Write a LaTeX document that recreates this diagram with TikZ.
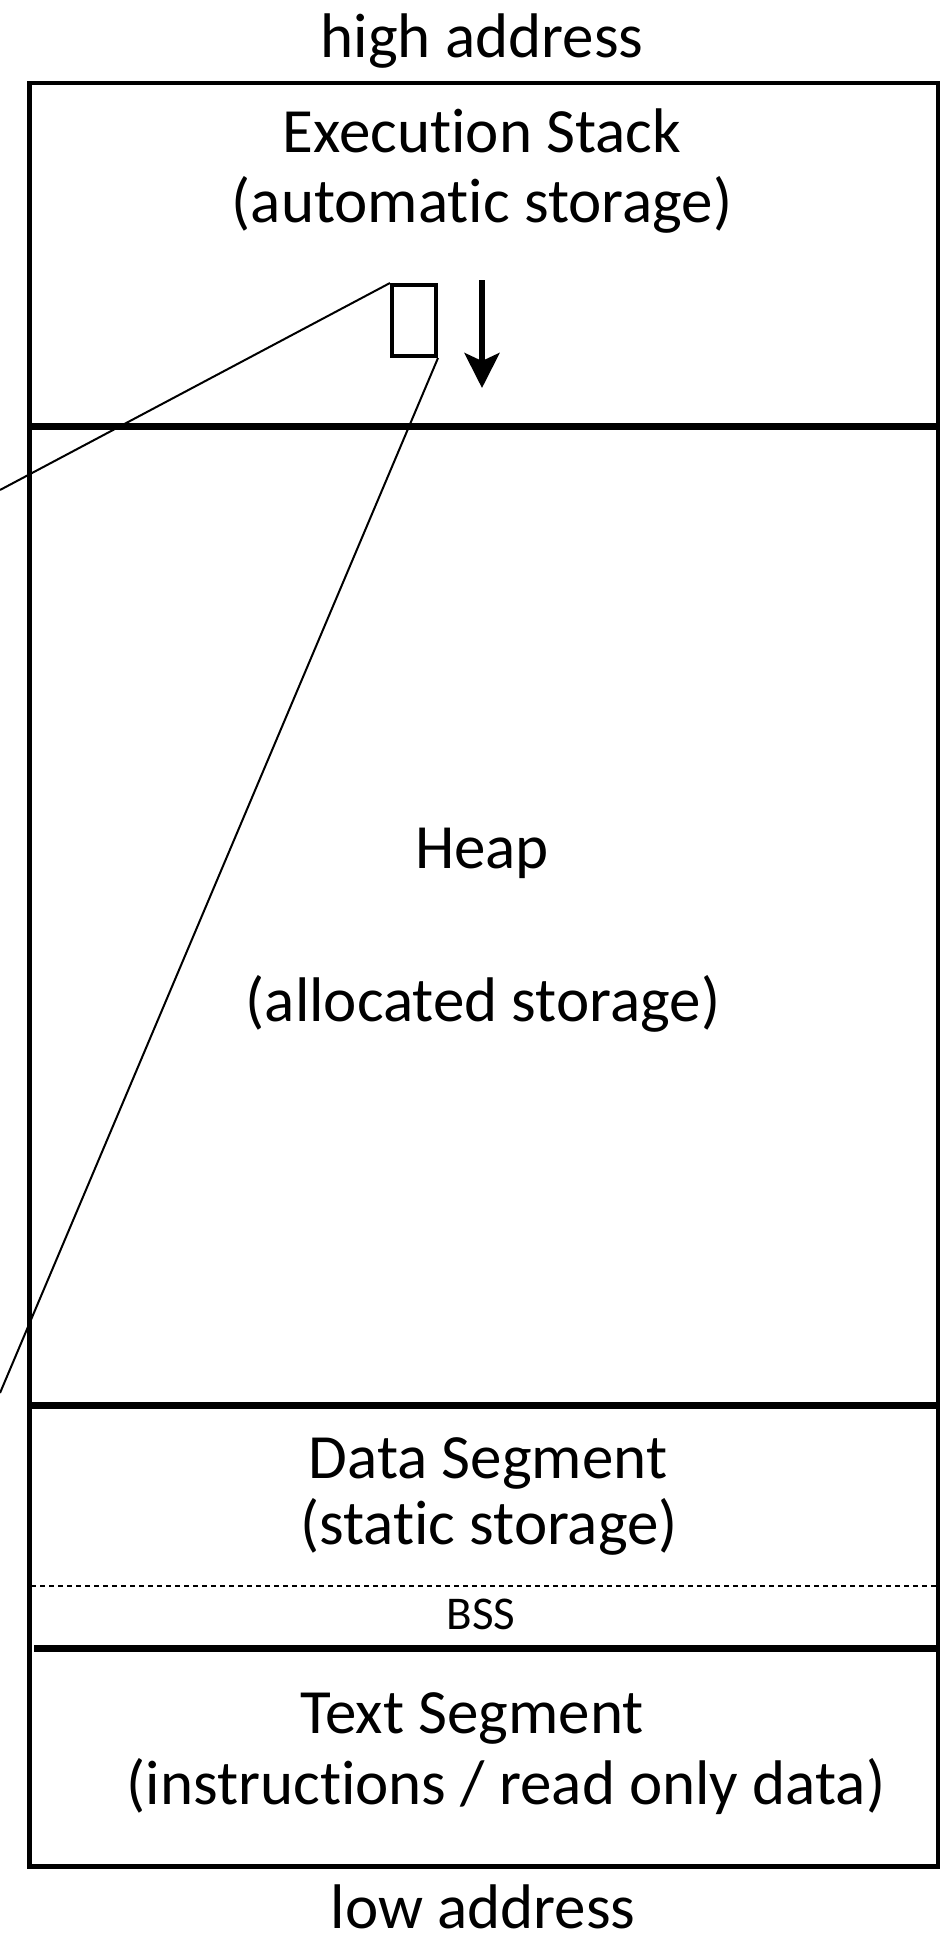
\documentclass[tikz,border=0pt]{standalone}
\usepackage{fontspec}
\setmainfont{Carlito}[Ligatures=NoCommon]
\usetikzlibrary{arrows.meta}
\begin{document}
\begin{tikzpicture}[x=1pt,y=-1pt,
  lbl/.style={anchor=base, inner sep=0pt, font=\fontsize{63}{70}\selectfont},
  smalllbl/.style={anchor=base, inner sep=0pt, font=\fontsize{47}{52}\selectfont},
  frame/.style={line width=4.5pt},
  divider/.style={line width=7.5pt},
  thinline/.style={line width=2pt},
  cellbox/.style={draw, line width=4pt, inner sep=0pt, minimum width=44pt, minimum height=71pt},
  growarrow/.style={line width=5.5pt, -{Stealth[length=35pt,width=35pt,inset=8pt]}}]
\useasboundingbox (0,0) rectangle (952,1938);
% outer frame and dividers
\draw[frame] (29.5,83) rectangle (938,1866.5);
\draw[divider] (29.5,426.5) -- (938,426.5);
\draw[divider] (29.5,1405.5) -- (938,1405.5);
\draw[divider] (34,1648.3) -- (938,1648.3);
\draw[line width=2.5pt, dash pattern=on 5pt off 4pt] (31,1586) -- (936,1586);
% stack cell and growth arrow
\node[cellbox] (cell) at (414,320.5) {};
\coordinate (arrtop) at (482,280);
\coordinate (arrtip) at (482,388);
\draw[growarrow] (arrtop) -- (arrtip);
% zoom-out connectors
\coordinate (leftA) at (0,490);
\coordinate (leftB) at (0,1393);
\draw[thinline] (cell.north west) -- (leftA);
\draw[thinline] (cell.south east) -- (leftB);
% labels
\node[lbl] (high) at (482,57) {high address};
\node[lbl] (stack) at (482,152) {Execution Stack};
\node[lbl] (stack2) at (482,222) {(automatic storage)};
\node[lbl] (heap) at (482,868) {Heap};
\node[lbl] (heap2) at (483,1021) {(allocated storage)};
\node[lbl] (data) at (488,1478) {Data Segment};
\node[lbl] (data2) at (489,1544) {(static storage)};
\node[smalllbl] (bss) at (481,1629) {BSS};
\node[lbl] (text) at (472,1733) {Text Segment};
\node[lbl] (text2) at (506,1804) {(instructions / read only data)};
\node[lbl] (low) at (483,1928) {low address};
\end{tikzpicture}
\end{document}
